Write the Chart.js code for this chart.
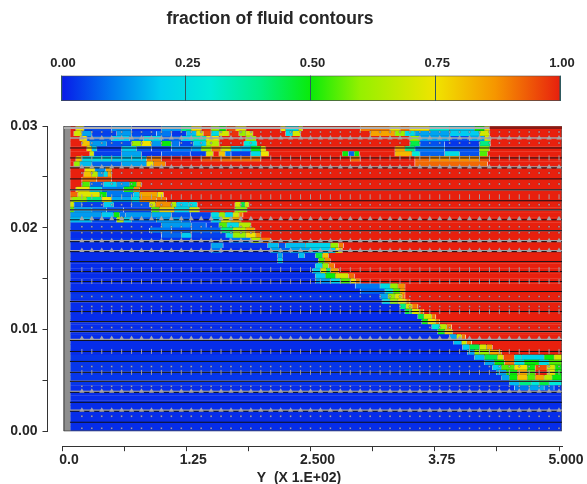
<!DOCTYPE html>
<html>
<head>
<meta charset="utf-8">
<title>fraction of fluid contours</title>
<script src="https://cdn.jsdelivr.net/npm/chart.js"></script>
<style>
  html, body { margin: 0; padding: 0; background: #fff; overflow: hidden; }
  #wrap { position: relative; width: 587px; height: 484px; overflow: hidden; }
  canvas { position: absolute; left: 0; top: 0; filter: blur(0.5px); }
</style>
</head>
<body>
<div id="wrap">
  <canvas id="fieldChart" width="587" height="487"></canvas>
  <canvas id="barChart" width="587" height="118"></canvas>
  <canvas id="titleChart" width="540" height="36"></canvas>
</div>
<script>
const chartTitle = 'fraction of fluid contours';
const xAxisTitle = 'Y  (X 1.E+02)';

const xTickValues = [0, 0.625, 1.25, 1.875, 2.5, 3.125, 3.75, 4.375, 5];
const xTickLabels = ['0.0', '', '1.25', '', '2.500', '', '3.75', '', '5.000'];
const yTickValues = [0, 0.005, 0.01, 0.015, 0.02, 0.025, 0.03];
const yTickLabels = ['0.00', '', '0.01', '', '0.02', '', '0.03'];
const barTickValues = [0, 0.25, 0.5, 0.75, 1];
const barTickLabels = ['0.00', '0.25', '0.50', '0.75', '1.00'];

const colorStopF = [0, 0.1, 0.2, 0.3, 0.4, 0.5, 0.6, 0.75, 0.87, 1];
const colorStopRGB = [
  [8, 26, 232], [0, 120, 240], [0, 205, 240], [0, 235, 215], [0, 238, 130],
  [10, 235, 10], [150, 240, 0], [240, 228, 0], [246, 150, 0], [232, 32, 14]
];

// centre of each sub-row of the field, top to bottom
const subRowY = [
  0.02975, 0.02925, 0.02875, 0.02825, 0.02775, 0.02725, 0.02675, 0.02625, 0.02575, 0.02525,
  0.02475, 0.02425, 0.02375, 0.02325, 0.02275, 0.02225, 0.02175, 0.02125, 0.02075, 0.02025,
  0.01975, 0.01925, 0.01875, 0.01825, 0.01775, 0.01725, 0.01675, 0.01625, 0.01575, 0.01525,
  0.01475, 0.01425, 0.01375, 0.01325, 0.01275, 0.01225, 0.01175, 0.01125, 0.01075, 0.01025,
  0.00975, 0.00925, 0.00875, 0.00825, 0.00775, 0.00725, 0.00675, 0.00625, 0.00575, 0.00525,
  0.00475, 0.00425, 0.00375, 0.00325, 0.00275, 0.00225, 0.00175, 0.00125, 0.00075, 0.00025
];

// runs for each sub-row: end of run (Y), fraction, end of run, fraction...
const fractionRuns = [
  [.14,1,.22,.75,.5,.05,.7,.12,1.0,.03,1.2,.14,1.3,.4,1.4,.75,1.5,.98,1.58,.6,1.65,.5,1.75,.95,1.85,.75,2.2,1,2.25,.75,2.38,.25,2.42,.7,3.0,1,3.3,.9,3.4,.75,3.5,.9,3.7,.75,3.9,.3,4.15,.2,4.25,.5,4.3,.75,5.03,1],
  [.12,1,.2,.7,.3,.15,.55,.04,.7,.14,.95,.05,1.1,.1,1.25,.03,1.35,.18,1.42,.7,1.5,.95,1.58,.25,1.68,.7,1.78,.98,1.85,.6,1.92,.7,2.25,1,2.32,.25,2.4,.7,3.1,1,3.35,.85,3.45,.6,3.55,.25,3.9,.15,4.2,.2,4.3,.7,5.03,1],
  [.18,1,.25,.75,.5,.08,.68,.2,.82,.1,1.0,.25,1.2,.08,1.3,.2,1.45,.35,1.58,.75,1.85,1,1.95,.6,3.5,1,3.6,.6,3.9,.15,4.1,.06,4.25,.15,4.31,.7,5.03,1],
  [.2,1,.28,.8,.45,.14,.7,.06,.8,.6,.9,.75,1.0,.14,1.1,.5,1.18,.1,1.32,.04,1.45,.2,1.58,.65,1.83,1,1.96,.3,3.5,1,3.6,.45,3.85,.06,4.2,.03,4.31,.4,5.03,1],
  [.25,1,.3,.75,.35,.2,.6,.03,.75,.2,.9,.06,1.1,.04,1.3,.1,1.4,.15,1.5,.6,1.6,.9,1.7,.7,1.8,.22,1.9,.18,2.0,.5,2.05,.75,3.35,1,3.45,.85,3.55,.4,3.85,.1,4.2,.06,4.3,.6,5.03,1],
  [.28,1,.32,.7,.6,.04,.8,.15,1.0,.03,1.29,.06,1.45,.04,1.52,.7,1.58,1,1.64,.8,1.7,.1,1.9,.04,2.0,.25,2.08,.75,2.82,1,2.88,.5,2.94,.08,2.99,.5,3.35,1,3.52,.82,3.6,.3,3.85,.08,4.0,.25,4.2,.06,4.28,.55,5.03,1],
  [.14,1,.2,.8,.5,.25,.85,.2,1.0,.9,1.4,1,1.6,.95,2.0,.92,2.9,1,3.0,.92,3.55,1,3.7,.92,4.2,.88,4.3,.95,5.03,1],
  [.12,1,.18,.6,.3,.18,.6,.08,.85,.15,.92,.75,1.04,.88,3.55,1,4.28,.92,5.03,1],
  [.23,1,.33,.75,.44,.12,.5,.85,5.03,1],
  [.22,1,.3,.8,.36,.65,.42,.15,.46,.25,.5,.85,5.03,1],
  [.2,1,.35,.9,.5,.95,5.03,1],
  [.2,1,.28,.55,.42,.08,.55,.22,.68,.14,.75,.5,.8,.85,5.03,1],
  [.14,1,.28,.75,.4,.25,.62,.1,.72,.5,.78,.88,5.03,1],
  [.16,.92,.38,.72,.45,.5,.72,.1,.78,.2,.96,.85,1.02,.75,5.03,1],
  [.1,.8,.25,.6,.4,.4,.5,.75,.7,.15,.78,.25,.95,.88,1.05,.9,5.03,1],
  [.12,.7,.2,.08,.42,.04,.52,.2,.7,.03,.88,.06,.94,.7,1.1,.88,1.15,.65,1.27,.2,1.36,.25,1.74,1,1.8,.7,1.84,.45,1.88,.7,5.03,1],
  [.12,.55,.3,.15,.45,.1,.62,.06,.9,.04,.98,.55,1.13,.78,1.28,.25,1.38,.7,1.74,1,1.86,.6,5.03,1],
  [.4,.14,.52,.2,.58,.5,.64,.1,.9,.14,1.1,.16,1.29,.06,1.5,.04,1.58,.25,1.64,.6,1.72,.25,1.78,.7,1.82,.9,5.03,1],
  [.3,.18,.55,.06,.62,.65,.7,.2,.95,.08,1.2,.14,1.29,.08,1.5,.03,1.6,.2,1.7,.7,1.8,.85,5.03,1],
  [1.0,.03,1.3,.14,1.45,.08,1.58,.04,1.66,.55,1.78,.25,1.9,.65,5.03,1],
  [.88,.03,1.1,.1,1.3,.06,1.6,.08,1.72,.4,1.85,.65,1.94,.85,5.03,1],
  [1.0,.02,1.2,.08,1.3,.2,1.65,.04,1.72,.25,1.85,.6,1.95,.75,2.0,.88,5.03,1],
  [1.69,.03,1.9,.1,2.0,.65,2.1,.9,5.03,1],
  [1.5,.02,1.62,.15,2.07,.03,2.18,.18,2.25,.06,2.45,.18,2.7,.22,2.78,.6,2.83,.9,5.03,1],
  [1.5,.02,1.6,.1,2.1,.02,2.2,.15,2.3,.08,2.5,.15,2.75,.2,2.82,.75,5.03,1],
  [2.17,.02,2.22,.15,2.38,.03,2.44,.18,2.55,.03,2.62,.45,2.68,.8,5.03,1],
  [2.17,.02,2.22,.2,2.58,.03,2.64,.55,2.7,.88,5.03,1],
  [2.55,.02,2.62,.25,2.68,.6,2.74,.9,5.03,1],
  [2.52,.02,2.6,.2,2.66,.7,2.7,.4,2.78,.85,5.03,1],
  [2.55,.02,2.65,.2,2.75,.5,2.88,.7,2.94,.92,5.03,1],
  [2.55,.02,2.7,.14,2.8,.25,2.9,.55,2.95,.75,3.0,.9,5.03,1],
  [2.95,.02,3.2,.1,3.3,.25,3.38,.6,3.45,.88,5.03,1],
  [3.0,.02,3.25,.08,3.33,.25,3.4,.55,3.45,.85,5.03,1],
  [3.2,.03,3.28,.15,3.35,.6,3.42,.72,3.45,.9,5.03,1],
  [3.22,.02,3.3,.25,3.38,.6,3.46,.75,3.5,.9,5.03,1],
  [3.4,.02,3.46,.4,3.52,.7,3.58,.9,5.03,1],
  [3.45,.02,3.52,.45,3.6,.72,3.64,.9,5.03,1],
  [3.58,.02,3.64,.45,3.72,.7,3.76,.9,5.03,1],
  [3.62,.02,3.68,.5,3.76,.75,3.8,.9,5.03,1],
  [3.72,.02,3.8,.3,3.87,.65,3.92,.9,5.03,1],
  [3.78,.02,3.85,.5,3.93,.8,5.03,1],
  [3.9,.02,3.97,.15,4.02,.7,4.06,.9,5.03,1],
  [3.94,.02,4.02,.18,4.07,.7,4.12,.9,5.03,1],
  [4.03,.02,4.1,.2,4.2,.45,4.27,.7,4.33,.85,5.03,1],
  [4.08,.02,4.15,.15,4.3,.6,4.42,.85,5.03,1],
  [4.15,.03,4.25,.18,4.38,.45,4.44,.7,4.55,.95,4.62,.28,4.85,.22,4.95,.5,5.03,.7],
  [4.25,.03,4.35,.15,4.45,.5,4.55,.9,4.65,.28,4.8,.5,4.9,.25,5.03,.55],
  [4.33,.03,4.42,.2,4.55,.55,4.68,.75,4.76,.5,4.88,.95,4.96,.7,5.03,.5],
  [4.37,.03,4.47,.15,4.58,.5,4.68,.85,4.76,.55,4.88,1,4.96,.75,5.03,.5],
  [4.42,.03,4.5,.15,4.58,.5,4.68,.8,4.76,.55,4.85,.85,4.93,.65,5.03,.5],
  [4.5,.03,4.6,.18,4.72,.4,4.8,.3,4.9,.45,5.03,.3],
  [4.55,.02,4.7,.1,4.85,.15,4.95,.08,5.03,.03],
  [5.03,.02],
  [5.03,.02],
  [5.03,.02],
  [5.03,.02],
  [5.03,.02],
  [5.03,.02],
  [5.03,.02],
  [5.03,.02]
];

const fieldStartX = 0.08;
const wallX = [0.02, 0.08];
const wallY = 0.015;
const topEdgeGreyX = [0.02, 4.3];
const topEdgeRedX = [4.3, 5.03];
const frameX = [0.02, 0.02, 5.03, 5.03, 0.02];
const frameY = [0, 0.03, 0.03, 0, 0];

// mesh lines and baffle marks seen in the field
const blackLineY = [0.02784, 0.02686, 0.02588, 0.0248, 0.02373, 0.02265, 0.02176, 0.02078, 0.01971, 0.01863,
  0.01765, 0.01667, 0.01569, 0.01471, 0.01373, 0.01275, 0.01176, 0.01078, 0.0098, 0.00892,
  0.00784, 0.00686, 0.00578, 0.0049, 0.00382, 0.00284, 0.00196, 0.00088];
const greyLineY = [0.02882, 0.02598, 0.02373, 0.02176, 0.01971, 0.01873, 0.01775, 0.01275, 0.01078, 0.0098,
  0.00902, 0.00578, 0.0049, 0.00392, 0.00206];
const waveRowY = [0.02882, 0.02598, 0.02088, 0.01873, 0.01775, 0.00912, 0.00392, 0.00206];
const tickRowY = [0.02686, 0.02304, 0.01588, 0.01471, 0.01176, 0.00784, 0.00578];
const dotRowY = [0.02941, 0.02833, 0.02539, 0.02431, 0.02225, 0.0201, 0.01951, 0.01324, 0.01225, 0.0102,
  0.00637, 0.00441, 0.00147, 0.00029];
const notchX = [0.2, 0.3, 0.4, 0.5, 0.6, 0.7, 0.8, 0.9, 1.0, 1.1, 1.2, 1.3, 1.4, 1.5, 1.6, 1.7, 1.8,
  1.9, 2.0, 2.1, 2.2, 2.3, 2.4, 2.5, 2.6, 2.7, 2.8, 2.9, 3.0, 3.1, 3.2, 3.3, 3.4, 3.5, 3.6, 3.7,
  3.8, 3.9, 4.0, 4.1, 4.2, 4.3, 4.4, 4.5, 4.6, 4.7, 4.8, 4.9, 5.0];

const textColor = '#262626';
const labelFont = { family: '"Liberation Sans", Arial, sans-serif', size: 14, weight: 'bold' };

function fractionColor(f) {
  let i = 0;
  while (i < colorStopF.length - 2 && f > colorStopF[i + 1]) i++;
  const t = Math.min(1, (f - colorStopF[i]) / (colorStopF[i + 1] - colorStopF[i]));
  const a = colorStopRGB[i];
  const b = colorStopRGB[i + 1];
  return `rgb(${a[0] + (b[0] - a[0]) * t}, ${a[1] + (b[1] - a[1]) * t}, ${a[2] + (b[2] - a[2]) * t})`;
}

function buildFieldCells() {
  const cells = [];
  fractionRuns.forEach((runs, r) => {
    let start = fieldStartX;
    for (let i = 0; i < runs.length; i += 2) {
      cells.push({ x: [start, runs[i]], y: subRowY[r], f: runs[i + 1] });
      start = runs[i];
    }
  });
  return cells;
}

function lineDataset(xs, ys, color, width) {
  return {
    type: 'line',
    data: xs.map((x, i) => ({ x: x, y: ys[i] })),
    borderColor: color,
    borderWidth: width,
    pointRadius: 0,
    fill: false,
    order: 2,
    xAxisID: 'x',
    yAxisID: 'y'
  };
}

function markDataset(ys, style) {
  const points = [];
  ys.forEach(y => notchX.forEach(x => points.push({ x: x, y: y })));
  return Object.assign({
    type: 'scatter',
    data: points,
    order: 1,
    xAxisID: 'x',
    yAxisID: 'y'
  }, style);
}

function createFieldChart() {
  const datasets = [
    {
      type: 'bar',
      indexAxis: 'y',
      data: buildFieldCells(),
      backgroundColor: ctx => fractionColor(ctx.raw.f),
      // the mixed cells carry the dark contour lines of the original
      borderColor: ctx => (ctx.raw.f > 0.12 && ctx.raw.f < 0.9 ? 'rgba(10,20,20,0.35)' : 'rgba(0,0,0,0)'),
      borderWidth: 0.6,
      borderSkipped: false,
      barThickness: 6,
      grouped: false,
      order: 5,
      xAxisID: 'x',
      yAxisID: 'y'
    },
    {
      type: 'bar',
      indexAxis: 'y',
      data: [{ x: wallX, y: wallY }],
      backgroundColor: '#8e8e8e',
      barThickness: 306,
      grouped: false,
      order: 4,
      xAxisID: 'x',
      yAxisID: 'y'
    }
  ];

  blackLineY.forEach(y => datasets.push(lineDataset([fieldStartX, 5.03], [y, y], '#101018', 1)));
  greyLineY.forEach(y => datasets.push(lineDataset([fieldStartX, 5.03], [y, y], '#a4a4a8', 1.3)));

  datasets.push(markDataset(waveRowY, { pointStyle: 'triangle', pointRadius: 3, backgroundColor: '#a4a4a8', borderWidth: 0 }));
  datasets.push(markDataset(tickRowY, { pointStyle: 'line', pointRotation: 90, pointRadius: 2.5, borderColor: '#a0a0a6', borderWidth: 1 }));
  datasets.push(markDataset(dotRowY, { pointStyle: 'circle', pointRadius: 1, backgroundColor: 'rgba(190,190,205,0.85)', borderColor: 'rgba(50,30,40,0.5)', borderWidth: 0.5 }));

  datasets.push(lineDataset(topEdgeGreyX, [0.0298, 0.0298], '#b0b0b0', 2));
  datasets.push(lineDataset(topEdgeRedX, [0.0298, 0.0298], '#8a1a14', 2));
  datasets.push(lineDataset(frameX, frameY, '#4a4a4a', 1.2));

  new Chart(document.getElementById('fieldChart'), {
    data: { datasets: datasets },
    options: {
      responsive: false,
      animation: false,
      events: [],
      layout: { padding: { top: 126, left: 11, right: 0, bottom: 0 } },
      plugins: {
        legend: { display: false },
        tooltip: { enabled: false },
        title: {
          display: true,
          position: 'bottom',
          text: xAxisTitle,
          color: textColor,
          font: labelFont,
          padding: { top: 0, bottom: 0 }
        }
      },
      scales: {
        x: {
          type: 'linear',
          position: 'bottom',
          weight: 2,
          min: 0,
          max: 5.03,
          offset: false,
          afterBuildTicks: scale => { scale.ticks = xTickValues.map(v => ({ value: v })); },
          afterFit: scale => { scale.height = 24; },
          border: { display: true, color: '#333', width: 1 },
          grid: { drawOnChartArea: false, offset: false, color: '#333', tickLength: 5 },
          ticks: {
            autoSkip: false,
            maxRotation: 0,
            color: textColor,
            font: labelFont,
            padding: 1,
            labelOffset: 7,
            callback: (value, index) => xTickLabels[index]
          }
        },
        xGap: {
          type: 'linear',
          position: 'bottom',
          weight: 1,
          afterFit: scale => { scale.height = 15; },
          border: { display: false },
          grid: { display: false },
          ticks: { display: false }
        },
        y: {
          type: 'linear',
          position: 'left',
          weight: 2,
          min: 0,
          max: 0.03,
          offset: false,
          afterBuildTicks: scale => { scale.ticks = yTickValues.map(v => ({ value: v })); },
          afterFit: scale => { scale.width = 36.5; },
          border: { display: true, color: '#333', width: 1 },
          grid: { drawOnChartArea: false, offset: false, color: '#333', tickLength: 5 },
          ticks: {
            autoSkip: false,
            color: textColor,
            font: labelFont,
            padding: 5,
            callback: (value, index) => yTickLabels[index]
          }
        },
        yGap: {
          type: 'linear',
          position: 'left',
          weight: 1,
          afterFit: scale => { scale.width = 14.5; },
          border: { display: false },
          grid: { display: false },
          ticks: { display: false }
        },
        yRightGap: {
          type: 'linear',
          position: 'right',
          afterFit: scale => { scale.width = 25; },
          border: { display: false },
          grid: { display: false },
          ticks: { display: false }
        }
      }
    }
  });
}

function colorbarFill(context) {
  const area = context.chart.chartArea;
  if (!area) return '#000';
  const gradient = context.chart.ctx.createLinearGradient(area.left, 0, area.right, 0);
  colorStopF.forEach(f => gradient.addColorStop(f, fractionColor(f)));
  return gradient;
}

function createColorbarChart() {
  new Chart(document.getElementById('barChart'), {
    type: 'bar',
    data: {
      labels: ['fraction'],
      datasets: [{
        data: [[0, 1]],
        backgroundColor: colorbarFill,
        borderColor: '#4a4a4a',
        borderWidth: 1,
        borderSkipped: false,
        barPercentage: 1,
        categoryPercentage: 1
      }]
    },
    options: {
      indexAxis: 'y',
      responsive: false,
      animation: false,
      events: [],
      layout: { padding: { left: 61, right: 27, top: 52, bottom: 17 } },
      plugins: {
        legend: { display: false },
        tooltip: { enabled: false }
      },
      scales: {
        x: {
          type: 'linear',
          position: 'top',
          min: 0,
          max: 1,
          afterBuildTicks: scale => { scale.ticks = barTickValues.map(v => ({ value: v })); },
          border: { display: false },
          grid: { color: '#2f5a60', lineWidth: 1, z: 1, tickLength: 0 },
          ticks: {
            autoSkip: false,
            maxRotation: 0,
            color: textColor,
            font: { family: labelFont.family, size: 13, weight: 'bold' },
            padding: 4,
            labelOffset: 2,
            callback: (value, index) => barTickLabels[index]
          }
        },
        y: { display: false }
      }
    }
  });
}

function createTitleChart() {
  new Chart(document.getElementById('titleChart'), {
    type: 'bar',
    data: { labels: [], datasets: [] },
    options: {
      responsive: false,
      animation: false,
      events: [],
      plugins: {
        legend: { display: false },
        tooltip: { enabled: false },
        title: {
          display: true,
          text: chartTitle,
          color: textColor,
          font: { family: labelFont.family, size: 17.5, weight: 'bold' },
          padding: { top: 9, bottom: 0 }
        }
      },
      scales: { x: { display: false }, y: { display: false } }
    }
  });
}

document.addEventListener('DOMContentLoaded', function() {
  createFieldChart();
  createColorbarChart();
  createTitleChart();
});
</script>
</body>
</html>
